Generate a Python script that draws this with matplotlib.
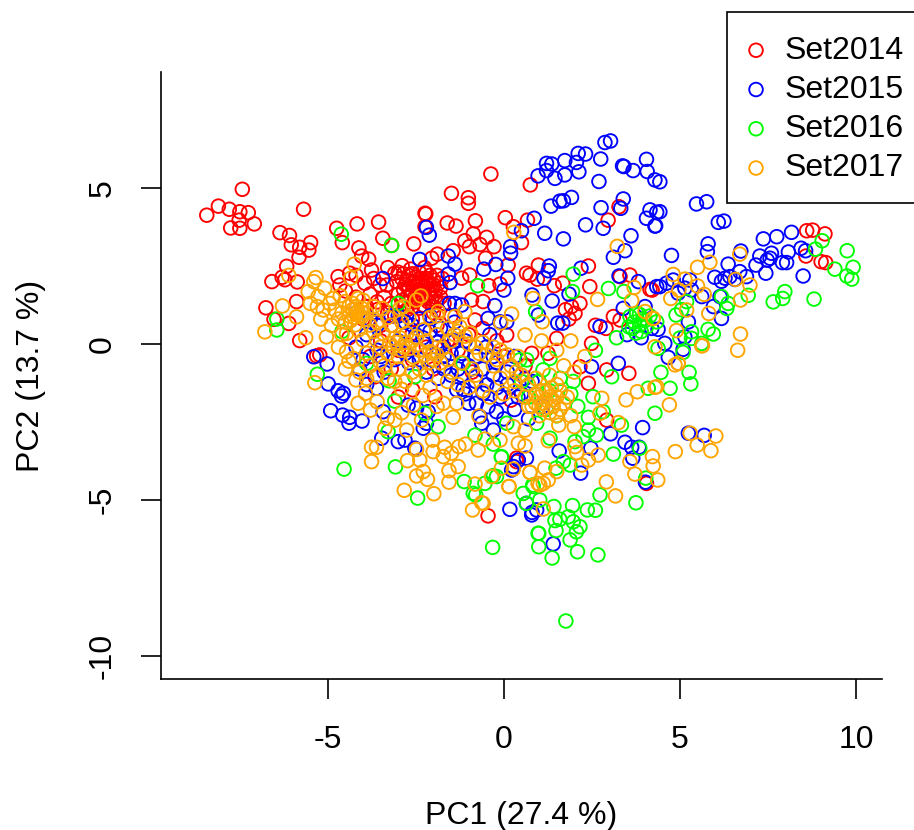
import numpy as np
import matplotlib
matplotlib.use('Agg')
import matplotlib.pyplot as plt
from matplotlib.patches import Rectangle

plt.rcParams['font.family'] = ['Liberation Sans', 'DejaVu Sans']
plt.rcParams['axes.unicode_minus'] = False

# PCA scores, (PC1, PC2)
set2014 = [(-7.43,4.96),(-8.44,4.13),(-8.11,4.42),(-7.80,4.32),(-7.50,4.24),(-7.26,4.21),(-7.09,3.85),(-7.52,3.97),
    (-7.76,3.72),(-7.50,3.71),(-5.69,4.32),(-6.36,3.57),(-6.09,3.48),(-6.04,3.18),(-5.80,3.10),(-5.49,3.25),(-5.54,3.01),
    (-5.82,2.78),(-4.75,3.71),(-4.59,3.25),(-4.17,3.85),(-3.56,3.91),(-3.44,3.39),(-3.19,3.16),(-4.12,3.08),(-4.04,2.82),
    (-3.84,2.72),(-3.76,2.37),(-6.17,2.49),(-6.59,2.00),(-6.30,2.14),(-6.22,2.06),(-5.87,1.99),(-4.71,2.16),(-4.66,1.89),
    (-4.38,2.27),(-3.95,1.95),(-2.56,3.21),(-2.24,4.19),(-2.24,3.76),(-3.10,2.27),(-2.89,2.51),(-3.52,1.89),(-3.33,1.89),
    (-6.76,1.16),(-6.53,0.79),(-6.11,0.66),(-5.80,0.11),(-5.32,-0.38),(-5.89,1.36),
    (-2.9,2.1),(-2.8,1.9),(-2.7,2.2),(-2.6,1.7),(-2.5,2.0),(-2.4,2.3),(-2.3,1.8),(-2.2,2.1),(-2.1,1.6),(-2.0,1.9),
    (-1.9,2.2),(-2.75,1.5),(-2.55,1.35),(-2.35,1.5),(-2.15,1.35),(-1.95,1.5),(-1.8,1.8),(-3.0,1.6),(-2.65,2.4),(-2.25,2.45),
    (-2.45,1.6),(-2.05,1.75),(-2.6,1.95),(-2.3,2.0),(-2.85,1.75),(-3.2,1.3),(-3.4,1.5),(-3.6,1.35),(-2.0,1.2),(-1.85,1.05),
    (-2.4,1.15),(-2.75,1.1),(-4.2,1.5),(-4.5,1.7),(-3.9,1.2),(-4.0,0.8),(-3.2,0.6),(-2.6,0.8),(-1.9,0.6),(-1.5,0.9),
    (-3.0,-0.2),(-3.5,0.1),(-4.4,0.2),(-2.2,-0.1),(-2.6,-0.5),(-1.6,0.1),
    (-3.05,2.0),(-3.0,2.3),(-2.9,1.4),(-2.85,2.25),(-2.8,1.3),(-2.75,2.05),(-2.7,1.75),(-2.65,1.55),(-2.6,2.25),(-2.55,1.85),
    (-2.5,1.45),(-2.5,2.15),(-2.45,1.95),(-2.4,1.75),(-2.35,2.1),(-2.3,1.55),(-2.25,1.85),(-2.2,1.45),(-2.2,2.3),(-2.15,1.95),
    (-2.1,1.75),(-2.1,2.2),(-2.05,1.45),(-2.0,2.05),(-1.95,1.7),(-1.9,1.35),(-1.85,1.95),(-1.8,1.5),(-1.75,2.1),(-1.7,1.3),
    (-2.6,1.2),(-2.3,1.25),(-2.0,1.0),(-3.3,1.0),(-3.1,0.9),(-2.9,1.0),(-3.6,1.1),(-3.8,1.6),(-3.5,0.6),(-4.2,2.2),(-3.7,2.1),(-3.3,2.45),
    (-1.0,0.3),(-0.6,0.5),(-1.3,-0.2),(-0.2,0.1),(-3.8,-0.4),(-3.2,-0.8),(-2.6,0.35),(-2.0,-0.8),(0.0,-0.4),(-1.7,-0.1),(-0.9,-0.9),(0.2,-1.8),(0.6,-0.7),(-3.0,-1.7),
    (-0.37,5.45),(-1.49,4.83),(-1.01,4.69),(-1.01,4.51),(-2.22,4.17),(-1.61,3.88),(-1.36,3.78),(-0.81,3.95),(0.04,4.05),
    (0.75,5.10),(0.27,3.76),(0.67,3.97),(0.50,3.25),(-0.87,3.53),(-1.11,3.31),(-0.98,3.12),(-0.68,3.19),(-0.49,3.42),
    (-0.28,3.12),(-1.44,2.99),(-1.89,2.88),(-2.05,2.75),(-0.52,2.75),(0.12,2.53),(0.64,2.27),(0.74,2.21),(0.98,2.53),
    (0.95,2.08),(1.43,1.87),(1.67,1.95),(2.40,2.50),(2.44,1.84),(2.96,3.97),(3.27,4.40),(3.58,2.21),(4.15,1.75),(3.11,0.88),
    (3.30,2.16),(2.16,1.30),(1.92,1.20),(2.02,0.98),(3.30,0.77),(-0.92,1.41),(-0.59,1.36),(-1.20,2.11),(-0.97,2.21),
    (-0.43,1.87),(-0.11,1.92),(-0.82,0.77),(1.75,1.1),(1.85,0.8),(2.6,0.6),(2.9,0.5),
    (8.60,3.63),(8.77,3.65),(9.12,3.53),(8.58,2.82),(9.01,2.64),(9.14,2.61),(4.21,1.73),
    (-0.45,-5.51),(0.36,-3.77),(-2.59,-1.47),(-1.96,-1.69),(-3.66,-1.05),(-5.23,-0.35),
    (0.08,0.29),(2.40,-1.26),(2.92,-2.44),(1.50,0.18),(2.49,0.02),(0.79,-0.30),(1.25,-0.30),(2.16,-0.73),(2.92,-0.83),
    (3.55,-0.94),(4.05,-4.47),(0.36,-3.66)]

set2015 = [(1.21,5.79),(1.36,5.77),(1.21,5.56),(0.97,5.39),(1.45,5.31),(1.73,5.42),(1.73,5.88),(2.11,6.11),(2.32,6.09),
    (2.06,5.82),(2.13,5.52),(2.75,5.93),(2.87,6.46),(3.03,6.51),(2.70,5.21),(3.37,5.71),(3.41,5.69),(3.67,5.56),(4.05,5.92),
    (4.07,5.53),(4.29,5.26),(4.43,5.20),(1.34,4.42),(1.59,4.58),(1.69,4.59),(1.92,4.70),(2.76,4.37),(3.39,4.65),(3.32,4.35),
    (4.15,4.30),(4.34,4.22),(4.05,4.03),(4.29,3.78),(2.32,3.82),(2.82,3.71),(3.61,3.47),(0.86,4.03),(0.50,3.63),(1.16,3.55),
    (1.69,3.37),(3.44,2.99),(3.11,2.78),(0.19,3.12),(0.19,2.91),(-0.23,2.55),(-0.57,2.40),(0.11,2.11),(0.00,1.73),(-1.58,2.82),
    (-1.39,2.56),(-1.58,2.24),(-1.53,1.97),(-2.20,3.74),(-2.12,3.49),(-2.39,2.71),(1.29,2.50),(1.26,2.35),(1.14,2.11),
    (2.19,2.43),(3.27,2.18),(3.82,2.00),(4.34,1.84),(1.85,1.60),(1.37,1.38),(0.80,1.57),(-0.26,1.23),(-1.39,1.30),(-1.20,1.25),
    (-0.45,0.82),(-0.11,0.71),(0.08,0.71),(0.98,0.93),(1.53,0.67),(1.67,0.67),(2.73,0.56),(3.39,1.14),(4.01,1.20),
    (-3.44,2.10),(-4.20,1.00),(-3.80,0.80),(-3.2,0.9),(-2.6,0.6),(-2.1,0.9),(-1.8,0.5),(-1.4,0.7),(-2.3,0.2),(-1.9,-0.1),
    (-1.5,-0.3),(-1.1,0.1),(-0.8,-0.4),(-0.5,-0.1),(-0.2,-0.6),(-3.0,0.1),(-3.5,-0.4),(-4.1,-0.8),(-2.7,-0.6),(-2.2,-0.9),
    (-1.7,-0.8),(-1.2,-1.0),(-0.3,-1.0),(0.1,-1.3),(0.4,-1.7),(0.6,-1.1),(0.3,-2.1),(0.7,-2.4),(1.1,-2.0),
    (-3.6,0.6),(-3.9,0.3),(-4.2,-0.1),(-4.0,-0.5),(-3.4,-0.9),(-2.5,0.3),(-2.4,0.8),(-2.1,0.4),(-1.9,0.05),(-1.7,-0.4),(-1.4,0.1),(-1.2,-0.3),
    (-1.0,-0.7),(-0.8,-1.2),(-0.6,-0.8),(-0.3,-0.4),(-0.1,-1.7),(0.1,-0.9),(0.3,-0.4),(0.5,-1.6),(0.8,-1.2),(-3.1,-0.5),(-2.8,-0.3),(-2.4,-0.5),
    (-1.5,-1.0),(-1.3,-0.8),(-1.1,-1.6),(-1.0,-1.9),(-0.2,-1.4),(0.0,-2.4),(-3.9,-1.3),(-3.6,-0.2),(-1.55,1.3),(-3.0,0.9),(-2.8,0.7),(-0.4,0.3),
    (5.47,4.49),(5.76,4.56),(6.09,3.90),(6.25,3.94),(4.43,4.24),(4.31,3.79),(5.80,3.21),(5.78,2.96),(4.76,2.84),(6.73,2.98),
    (6.37,2.56),(6.70,2.32),(7.37,3.37),(7.75,3.44),(8.17,3.58),(7.27,2.82),(7.16,2.53),(7.60,2.91),(7.56,2.75),(7.48,2.69),
    (8.08,2.95),(8.03,2.61),(7.91,2.61),(7.44,2.27),(8.44,3.07),(8.57,2.99),(8.50,2.18),(5.99,2.14),(6.28,2.11),(6.42,2.16),
    (6.18,2.01),(6.89,2.16),(6.56,2.07),(4.62,1.95),(4.43,1.84),(4.81,2.05),(5.28,2.05),(5.14,1.79),(5.33,1.73),(4.95,1.63),
    (5.62,1.52),(6.14,1.52),(5.95,1.20),(6.18,0.82),(5.24,0.71),(4.38,0.47),(4.57,0.02),(5.09,-0.17),(4.67,-0.43),(5.14,0.23),
    (3.5,0.3),(3.9,0.2),(4.2,0.5),
    (-4.92,-2.14),(-4.58,-2.28),(-4.38,-2.35),(-4.40,-2.54),(-4.03,-2.47),(-5.02,-0.64),(-5.40,-0.41),(-4.99,-1.28),(-4.71,-1.50),
    (-4.56,-1.58),(-4.61,-1.67),(-3.62,-1.42),(-3.43,-2.17),(-2.72,-1.96),(-2.48,-2.06),(-2.15,-2.17),(-2.20,-2.54),(-2.29,-2.70),
    (-3.47,-3.02),(-3.00,-3.13),(-2.81,-3.08),(-2.53,-3.34),(-1.34,-1.47),(-1.16,-1.45),(-0.78,-1.90),(-0.59,-1.58),(-0.45,-2.01),
    (-0.21,-2.17),(-0.68,-2.33),(-0.63,-2.54),(-0.30,-2.76),(0.41,-3.72),(0.64,-3.66),(0.22,-4.04),(0.17,-5.30),(0.64,-5.11),
    (0.79,-5.48),(0.93,-5.32),(-1.87,-1.10),(-0.49,-1.31),(0.80,-5.40),(1.40,-6.41),(1.57,-3.43),(2.47,-3.34),(2.18,-4.14),
    (3.03,-2.88),(3.44,-3.15),(3.94,-2.68),(3.63,-3.31),(3.66,-3.66),(3.84,-3.31),(5.24,-2.86),(5.69,-2.93),(4.02,-4.43),(0.27,-3.93),
    (2.49,-0.73),(3.25,-0.62)]

set2016 = [(-0.75,1.87),(0.90,1.04),(1.97,2.24),(1.95,1.68),(2.97,1.78),(3.41,1.68),(3.58,0.88),(3.77,0.98),(3.86,0.61),(4.05,0.55),
    (3.65,0.5),(3.95,0.8),(3.7,0.7),(3.85,0.95),(3.9,0.4),(4.0,0.75),(3.75,0.35),(4.15,0.9),(3.55,0.55),
    (9.04,3.31),(8.85,3.04),(9.75,2.99),(9.40,2.40),(9.92,2.46),(9.74,2.18),(9.88,2.08),(7.98,1.68),(7.92,1.46),
    (7.65,1.35),(8.81,1.44),(6.94,1.56),(6.18,1.52),(6.37,1.30),(6.33,1.14),(5.19,1.36),(5.05,1.1),(4.89,0.93),(4.34,0.71),(5.33,0.39),
    (5.80,0.47),(5.95,0.32),(5.33,0.18),(5.62,0.02),(5.09,-0.27),(4.46,-0.91),(5.26,-0.91),(5.31,-1.28),(4.72,-1.42),(4.38,-0.14),(5.0,0.19),
    (-4.54,-4.01),(-3.08,-3.94),(-2.45,-4.94),(-5.30,-0.97),(-3.26,-1.18),(-3.10,-1.83),(-2.24,-2.22),(-1.87,-2.65),(-0.82,-2.92),(-0.30,-3.21),
    (-0.07,-3.63),(0.08,-2.54),(-0.21,-4.25),(-0.54,-4.47),(-1.13,-4.41),(-0.87,-4.79),(-0.80,-4.84),(0.55,-4.79),(0.64,-5.11),(0.83,-4.57),
    (0.97,-6.07),(-3.29,-2.81),(-2.53,-1.05),(-3.90,-0.62),(-1.16,-0.62),(-6.45,0.8),(-6.45,0.45),(-4.62,3.52),(-3.19,3.16),(-4.6,0.4),(-3.0,1.3),
    (4.29,-2.22),(4.10,-1.42),(3.11,-3.53),(2.73,-4.84),(3.75,-5.09),(3.86,-3.34),(4.03,-4.30),(2.63,-2.92),(2.40,-2.35),(2.40,-2.76),(2.25,-2.97),
    (2.02,-3.13),(2.82,-2.17),(3.34,-2.60),(3.06,-1.05),(1.31,-3.02),(1.48,-3.98),(1.69,-3.77),(1.88,-3.88),(1.02,-5.0),(1.42,-5.21),(1.95,-5.18),
    (2.37,-5.32),(2.60,-5.33),(1.45,-5.66),(1.59,-5.62),(1.83,-5.54),(1.97,-5.70),(2.16,-5.86),(2.06,-6.02),(1.48,-5.98),(0.99,-6.07),(0.99,-6.50),
    (-0.32,-6.52),(1.88,-6.28),(2.09,-6.66),(1.37,-6.86),(2.67,-6.76),(1.76,-8.88),(0.82,-4.52),(-0.30,-4.22),(-0.07,-3.61),
    (0.45,-0.51),(0.65,-0.51),(1.11,-0.83),(0.93,-2.54),(1.31,-0.46),(1.97,-1.20),(2.53,-1.69),(1.0,-1.2),(1.3,-1.5),(1.6,-1.1),(1.9,-1.6),(2.1,-2.0),
    (1.2,-2.1),(0.7,-1.7),(0.5,-1.2),(1.5,-2.3),(2.6,-0.2),(3.2,0.2)]

set2017 = [(-6.11,2.20),(-4.25,2.56),(-4.35,2.11),(-5.34,2.13),(-5.40,2.00),(-6.29,1.22),(-6.79,0.39),(-5.63,0.20),(-5.89,0.87),(-5.56,1.68),
    (-5.50,1.30),(-5.09,1.79),(-5.28,1.52),(-4.85,1.46),(-4.52,1.36),(-4.14,1.46),(-4.0,1.4),(-5.13,1.09),(-4.80,1.09),(-4.21,0.98),(-4.04,0.87),
    (-4.23,0.61),(-3.81,0.61),(-3.45,1.14),(-2.95,1.14),(-2.86,1.20),(-2.36,1.54),(-2.48,1.41),(-5.04,0.23),(-4.47,0.34),(-4.14,0.45),(-4.00,0.13),
    (-3.43,0.34),(-3.10,0.18),(-2.76,0.34),(-2.48,0.23),(-2.29,0.45),(-2.86,-0.09),(-3.24,0.02),(-4.47,-0.25),(-4.28,-0.46),(-2.58,-0.41),(-3.90,-0.30),
    (-3.52,-0.57),(-4.6,1.0),(-4.4,0.9),(-3.9,1.0),(-4.3,1.3),(-3.7,1.2),(-3.6,0.7),(-3.2,0.6),(-2.9,0.7),(-2.2,0.1),(-1.9,0.3),(-1.6,0.5),(-1.3,0.4),
    (-1.0,0.0),(-0.7,-0.3),(-2.0,-0.3),(-1.6,-0.5),(-1.2,-0.6),(-0.9,-0.8),(-4.1,-0.9),(-4.5,-0.8),(-3.9,-1.1),(-3.3,-1.1),(-3.0,-0.8),(-2.6,-0.9),(-2.2,-1.0),
    (-4.4,1.2),(-4.3,1.1),(-4.2,1.2),(-4.15,1.05),(-4.1,0.9),(-4.05,1.15),(-4.0,1.0),(-3.95,0.8),(-4.25,0.85),(-4.35,0.75),(-4.5,0.7),(-4.7,0.8),(-4.9,0.6),
    (-5.2,0.8),(-5.3,1.2),(-4.95,1.3),(-4.65,1.55),(-3.7,0.4),(-3.5,-0.1),(-3.3,-0.3),(-3.15,-0.1),(-3.05,0.05),(-2.95,0.2),(-2.9,-0.2),(-3.0,-0.4),(-2.8,0.05),
    (-2.7,-0.15),(-2.6,0.1),(-2.4,-0.2),(-2.25,-0.35),(-2.1,-0.25),(-2.0,-0.5),(-1.9,-0.35),(-1.8,-0.6),(-2.15,-0.6),(-1.75,-0.15),(-1.5,0.1),(-1.4,0.3),(-1.25,0.55),
    (-1.1,0.25),(-0.95,0.35),(-0.8,-0.1),(-0.6,0.05),(-0.5,-0.35),(-0.3,-0.1),(-0.2,-0.5),(-0.1,-0.2),(0.1,-0.35),(0.2,-0.7),(0.35,-0.9),(-4.7,-0.1),(-4.4,-0.55),
    (-4.2,-1.15),(-3.8,-0.7),(-3.6,-1.0),(-3.4,-0.7),(-3.1,-1.2),(-2.8,-1.2),(-2.4,-0.8),(-4.6,0.3),(-3.6,0.1),(-3.3,0.85),(-2.7,0.85),(-2.1,0.85),(-1.9,0.9),
    (-1.5,-0.9),(-1.3,-1.3),(-0.6,-1.5),(-0.4,-1.7),(0.0,-1.6),(0.3,-1.2),(-2.1,-1.4),(-2.3,-1.65),(-2.9,-2.2),(-1.9,-2.0),
    (-1.87,1.04),(-1.39,0.88),(-1.11,1.04),(-0.09,0.68),(0.22,0.96),(0.28,3.58),(0.83,1.46),(1.09,0.71),(2.66,1.43),(3.22,3.13),(3.70,1.81),(3.63,1.39),(4.24,0.82),(4.01,1.04),
    (6.70,2.88),(5.85,2.62),(5.50,2.46),(4.81,2.23),(5.14,2.08),(5.50,1.86),(4.97,1.73),(5.69,1.59),(4.74,1.46),(6.58,2.07),(6.99,1.89),(6.72,1.41),(5.19,1.09),(5.82,0.98),
    (4.24,0.82),(4.90,0.43),(6.72,0.32),(6.64,-0.20),(5.64,-0.05),(4.95,-0.62),(4.86,-0.67),(4.29,-0.09),(4.34,-1.37),
    (-5.37,-1.24),(-3.76,-3.77),(-3.76,-3.31),(-3.62,-3.31),(-3.38,-2.70),(-3.10,-2.44),(-3.31,-2.38),(-2.76,-2.76),(-2.03,-3.08),(-2.01,-3.45),(-2.48,-3.38),(-2.39,-3.72),
    (-2.74,-3.74),(-2.29,-4.09),(-2.48,-4.23),(-2.17,-4.34),(-2.83,-4.69),(-1.99,-4.80),(-1.56,-4.43),(-1.56,-4.06),(-1.30,-3.93),(-1.68,-3.31),(-1.49,-3.50),(-1.72,-3.61),
    (-1.28,-3.29),(-1.09,-3.21),(-0.73,-3.40),(-0.54,-3.05),(-0.11,-3.08),(0.41,-3.18),(0.60,-2.76),(0.27,-2.65),(-0.07,-3.98),(0.27,-4.01),(-0.35,-4.25),(0.74,-4.11),(0.15,-4.57),
    (-0.82,-4.49),(-0.63,-5.09),(-0.89,-5.32),(-1.44,-2.35),(-2.34,-2.44),(-2.57,-1.96),(-3.79,-2.12),(-3.60,-1.85),(-4.14,-1.90),(-3.93,-1.58),(-2.91,-1.45),(-1.34,-1.90),(-1.72,-1.90),
    (-0.71,-2.31),(0.97,-4.47),(4.87,-3.45),(5.29,-2.86),(5.49,-3.24),(5.88,-3.42),(6.02,-2.95),(3.17,-4.87),(2.91,-4.42),(4.22,-3.61),(4.24,-3.91),(4.37,-4.36),(3.72,-4.17),(3.58,-3.77),
    (3.47,-1.79),(3.79,-1.53),(4.29,-1.39),(4.70,-1.95),(3.25,-2.52),(2.78,-1.74),(2.73,-2.22),(2.00,-2.65),(1.56,-2.60),(1.26,-3.10),(0.60,-3.27),(2.02,-3.29),(2.07,-3.48),(2.68,-3.56),
    (2.40,-3.72),(2.21,-3.88),(0.74,-4.12),(1.16,-3.98),(1.50,-4.09),(1.26,-4.36),(1.12,-4.47),(1.02,-4.52),(0.14,-4.57),(1.12,-5.29),(-0.59,-5.11),(1.07,0.10),(0.60,0.29),(4.95,-0.62),(5.62,-0.06),
    (0.5,-1.0),(0.7,-1.3),(0.9,-1.6),(1.1,-1.9),(1.3,-2.2),(0.6,-1.7),(0.8,-2.0),(1.0,-2.3),(1.2,-1.5),(1.4,-1.8),(1.6,-2.1),(1.8,-1.7),(1.5,-1.3),(1.9,-2.3),(0.9,-1.1),(1.3,-1.0),(0.3,-1.5),
    (0.9,-1.9),(1.0,-1.7),(1.1,-1.5),(1.2,-1.8),(1.3,-1.7),(1.4,-2.0),(1.5,-1.7),(1.6,-1.5),(1.7,-1.9),(1.1,-2.1),(0.7,-2.0),(1.5,-2.3),(1.0,-2.0),(1.35,-1.4),
    (1.7,-0.7),(2.0,-0.9),(2.3,-0.4),(1.5,-0.2),(1.9,0.1),(0.4,-0.4),(-0.3,-0.7),(-0.1,-1.1),(-1.0,-1.4),(-0.8,-1.0),(-1.6,-1.2)]

labels = ['Set2014', 'Set2015', 'Set2016', 'Set2017']
colors = ['red', 'blue', '#00FF00', 'orange']

fig = plt.figure(figsize=(9.14, 8.3), dpi=100)
ax = fig.add_axes([161/914, 1 - 679/830, 721/914, 607/830])

for pts, lab, col in zip([set2014, set2015, set2016, set2017], labels, colors):
    pts = np.array(pts)
    ax.scatter(pts[:,0], pts[:,1], s=96, facecolors='none', edgecolors=col, linewidths=1.35, label=lab)

ax.set_xlim(-9.74, 10.74)
ax.set_ylim(-10.74, 8.72)
ax.spines['top'].set_visible(False)
ax.spines['right'].set_visible(False)
ax.spines['left'].set_linewidth(1.2)
ax.spines['bottom'].set_linewidth(1.2)
ax.set_xticks([-5, 0, 5, 10])
ax.set_yticks([-10, -5, 0, 5])
ax.tick_params(length=14.4, width=1.2, labelsize=23)
ax.tick_params(axis='x', pad=19)
ax.tick_params(axis='y', pad=17)
for t in ax.get_yticklabels():
    t.set_rotation(90)
    t.set_va('center')
ax.set_xlabel('PC1 (27.4 %)', fontsize=23, labelpad=32.5)
ax.set_ylabel('PC2 (13.7 %)', fontsize=23, labelpad=30)

# legend box runs off the right edge, as in the original
box = Rectangle((727/914, 1 - 203/830), 200/914, 191/830, transform=fig.transFigure, clip_on=False,
                facecolor='white', edgecolor='black', linewidth=1.2, zorder=4)
ax.add_patch(box)
ax.legend(loc='upper left', bbox_to_anchor=(726/914, 1 - 12/830), bbox_transform=fig.transFigure,
          fontsize=23, frameon=False, borderpad=0.74, borderaxespad=0,
          handlelength=0.4, handletextpad=0.7, labelspacing=0.29)

fig.savefig('out.png', dpi=100)
